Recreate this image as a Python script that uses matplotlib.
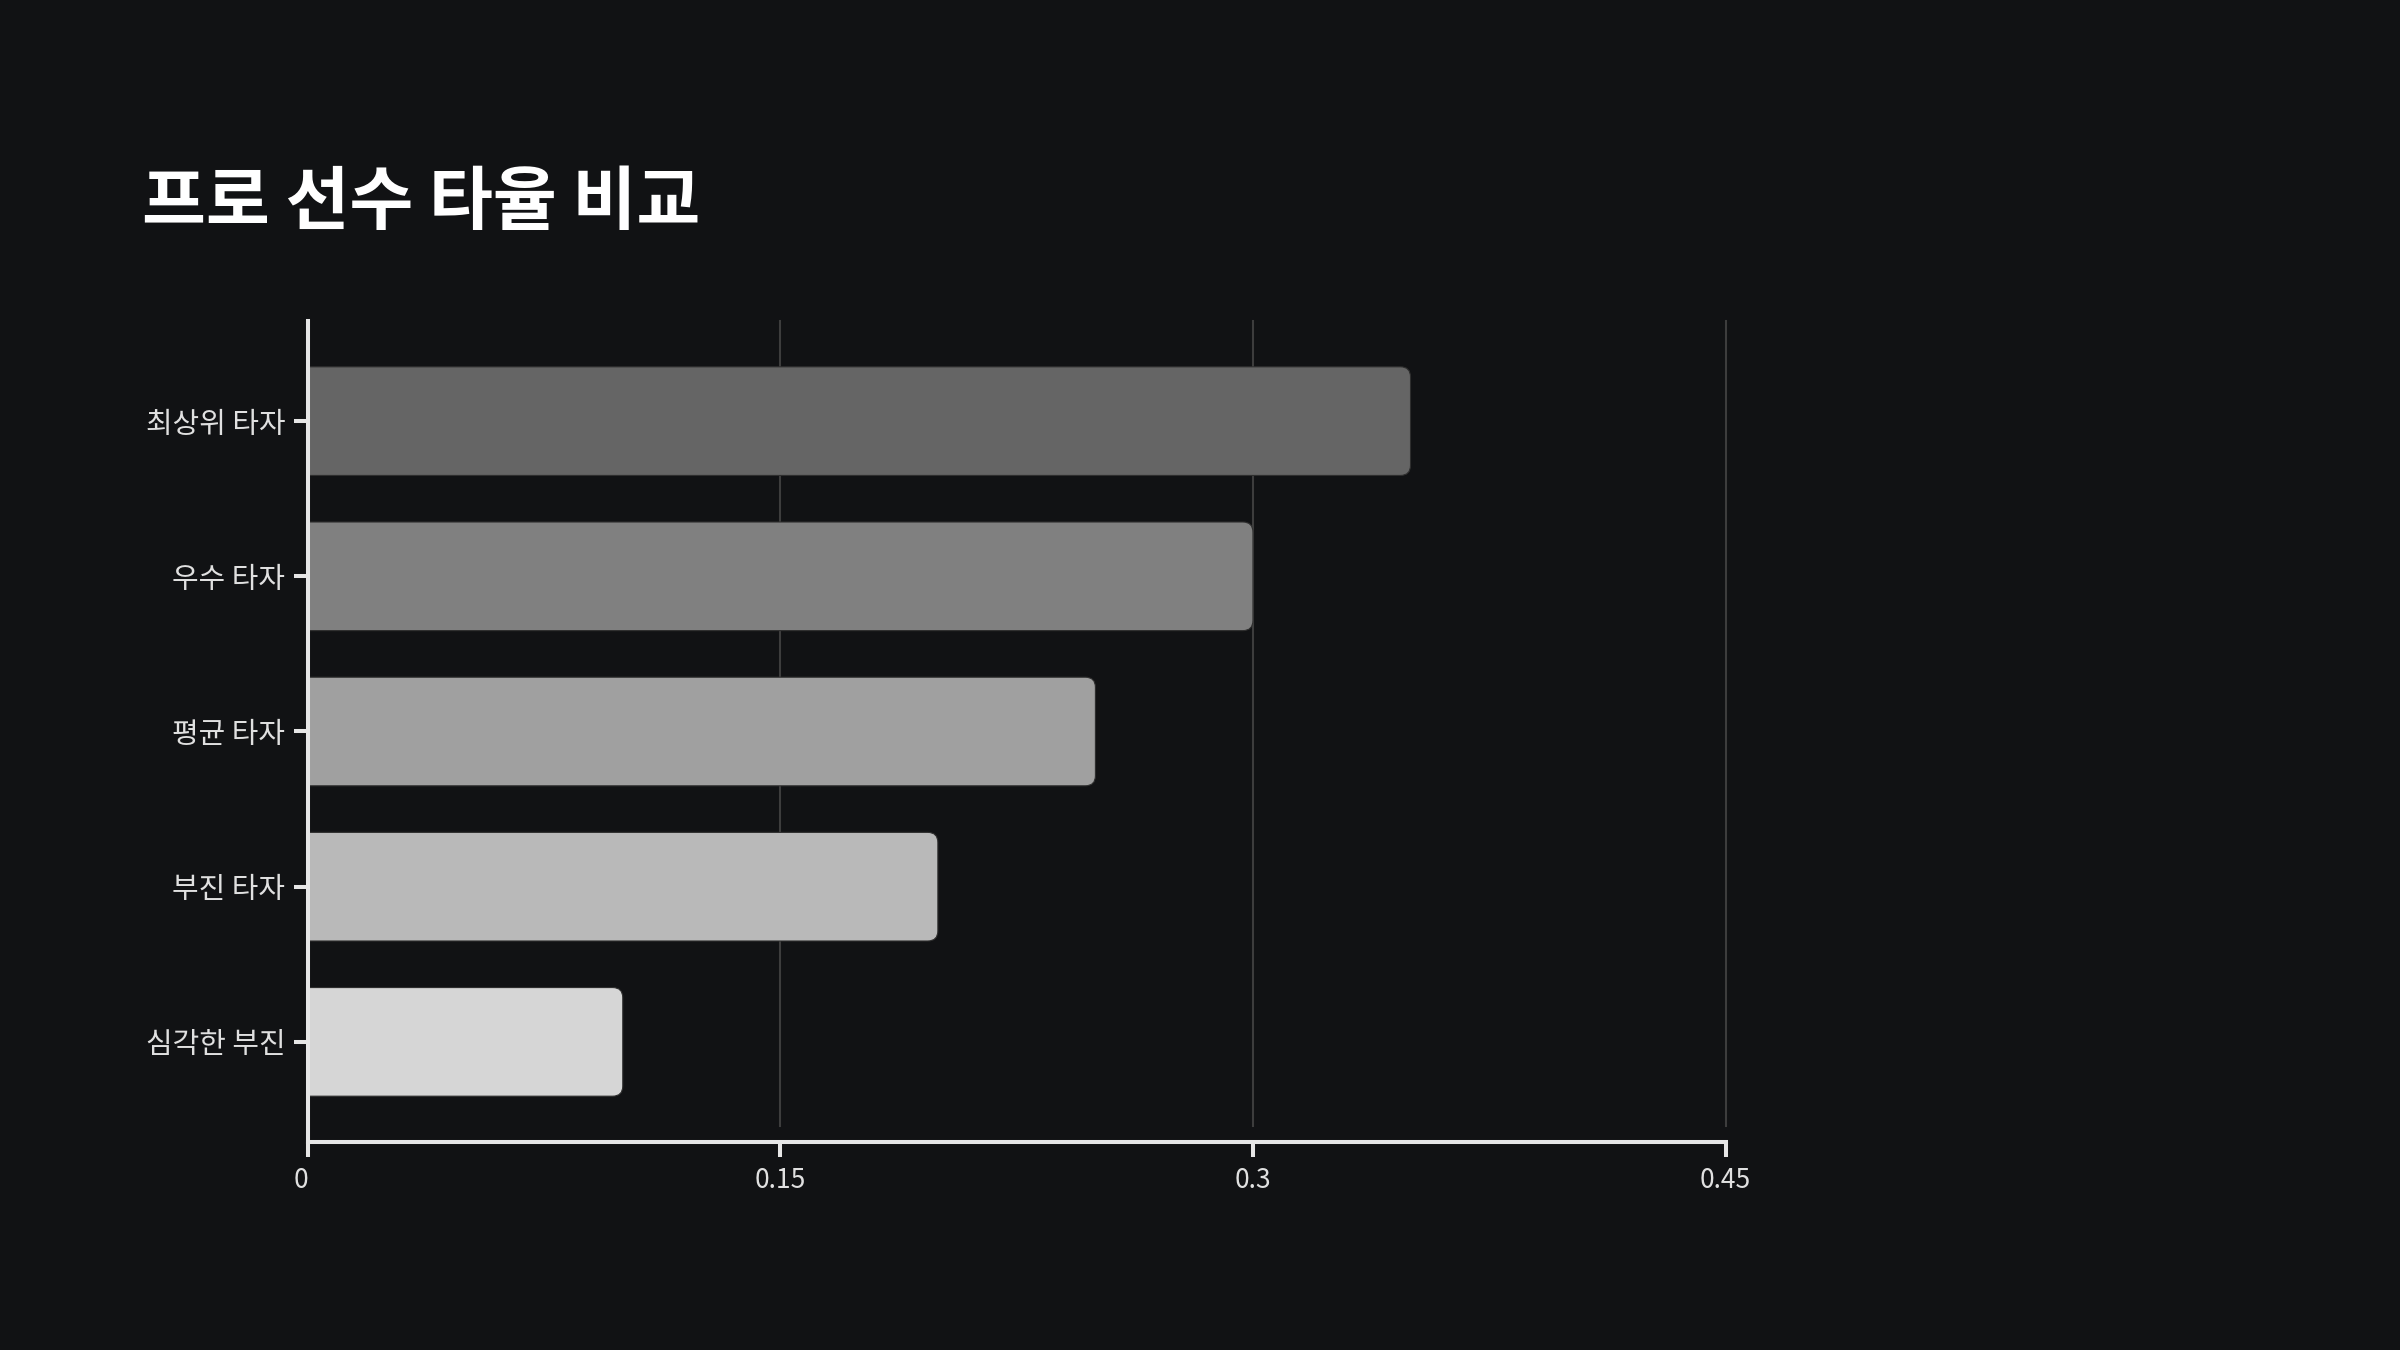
import matplotlib
matplotlib.use("Agg")
import matplotlib.pyplot as plt
from matplotlib.patches import FancyBboxPatch
from matplotlib.transforms import ScaledTranslation

plt.rcParams['font.family'] = ['Noto Sans CJK KR', 'DejaVu Sans']

# data
categories = ["최상위 타자", "우수 타자", "평균 타자", "부진 타자", "심각한 부진"]
averages = [0.35, 0.30, 0.25, 0.20, 0.10]
bar_colors = ["#656565", "#808080", "#a0a0a0", "#b9b9b9", "#d6d6d6"]
x_ticks = [0, 0.15, 0.3, 0.45]
x_tick_labels = ["0", "0.15", "0.3", "0.45"]

bg = "#111214"
axis_col = "#e6e6e6"
grid_col = "#3d3d3d"

fig = plt.figure(figsize=(24, 13.5), dpi=100, facecolor=bg)
ax = fig.add_axes([0.1282, 0.1541, 0.719 - 0.1282, 0.7622 - 0.1541])
ax.set_facecolor(bg)

pos = list(range(len(categories)))
bars = ax.barh(pos, averages, height=0.7, color=bar_colors)

# rounded right corners: swap each rectangle for a rounded box
r = 0.0032
for rect, c in zip(bars, bar_colors):
    x, y = rect.get_x(), rect.get_y()
    w, h = rect.get_width(), rect.get_height()
    rect.set_visible(False)
    box = FancyBboxPatch((x - 0.01, y), w + 0.01, h,
                         boxstyle=f"round,pad=0,rounding_size={r}",
                         mutation_aspect=20.3, facecolor=c,
                         edgecolor="#2e2e2e", linewidth=0.8, zorder=2)
    ax.add_patch(box)

ax.set_xlim(0, 0.45)
ax.set_ylim(len(categories) - 1 + 0.645, -0.645)

# grid lines stop just short of the x axis
for t in x_ticks[1:]:
    ax.axvline(t, ymin=0.0195, ymax=1, color=grid_col, linewidth=1.5,
               zorder=1, clip_on=False)

for s in ["top", "right"]:
    ax.spines[s].set_visible(False)
for s in ["left", "bottom"]:
    ax.spines[s].set_color(axis_col)
    ax.spines[s].set_linewidth(2.9)
    ax.spines[s].set_zorder(3)

ax.set_yticks(pos)
ax.set_yticklabels(categories)
ax.set_xticks(x_ticks)
ax.set_xticklabels(x_tick_labels)
ax.tick_params(axis="y", colors=axis_col, length=10, width=2.9, pad=6,
               labelsize=20.8, labelcolor="#e0e0e0")
ax.tick_params(axis="x", colors=axis_col, length=11, width=2.9, pad=7,
               labelsize=19, labelcolor="#e0e0e0")

# the "0" label sits a little left of its tick
lbl0 = ax.get_xticklabels()[0]
lbl0.set_transform(lbl0.get_transform() + ScaledTranslation(-7 / 100, 0, fig.dpi_scale_trans))

fig.text(142 / 2400, 1 - 224 / 1350, "프로 선수 타율 비교", color="white",
         fontsize=50, fontweight="bold", ha="left", va="baseline")

fig.savefig("out.png", dpi=100, facecolor=bg)
